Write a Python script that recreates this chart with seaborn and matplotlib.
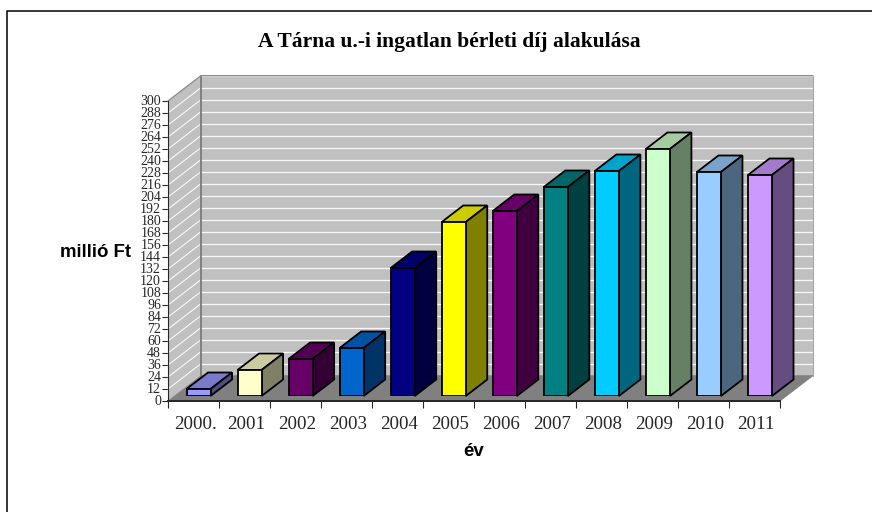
import numpy as np
import pandas as pd
import seaborn as sns
import matplotlib.pyplot as plt
from matplotlib.colors import to_rgb
from matplotlib.lines import Line2D
from matplotlib.patches import Polygon
from matplotlib.transforms import ScaledTranslation

W, H = 872, 512

YEARS = ["2000.", "2001", "2002", "2003", "2004", "2005", "2006", "2007", "2008", "2009", "2010", "2011"]
RENT = [7, 26, 37, 48, 128, 174, 185, 209, 225, 247, 224, 221]
COLORS = ["#9999FF", "#FFFFCC", "#660066", "#0066CC", "#000080", "#FFFF00",
          "#800080", "#008080", "#00CCFF", "#CCFFCC", "#99CCFF", "#CC99FF"]
Y_TICKS = list(range(0, 301, 12))


def shade(color, k):
    return tuple(c * k for c in to_rgb(color))


def add_axes_px(fig, left, bottom_y, right, top_y):
    return fig.add_axes([left / W, 1 - bottom_y / H, (right - left) / W, (bottom_y - top_y) / H])


def draw_frame(ax):
    # the box is drawn in the axes own units, 12 categories wide and 300 high
    dx, dy = 33 / 51, 25.3
    ax.set_xlim(0, 12)
    ax.set_ylim(0, 300)
    ax.patch.set_visible(False)
    ax.add_patch(Polygon([(dx, dy), (12 + dx, dy), (12 + dx, 300 + dy), (dx, 300 + dy)], fc="#C0C0C0",
                         ec="none", clip_on=False, zorder=1))
    ax.add_patch(Polygon([(0, 0), (dx, dy), (dx, 300 + dy), (0, 300)], fc="#C0C0C0",
                         ec="none", clip_on=False, zorder=1))
    for v in Y_TICKS[1:]:
        ax.plot([dx, 12 + dx], [v + dy, v + dy], color="white", lw=0.9, alpha=0.9, clip_on=False, zorder=2)
        ax.plot([0, dx], [v, v + dy], color="white", lw=0.8, alpha=0.9, clip_on=False, zorder=2)
    ax.add_patch(Polygon([(0, 0), (12, 0), (12 + dx, dy), (dx, dy)], fc="#808080", ec="#808080",
                         lw=0.5, clip_on=False, zorder=3))
    # wall edges on top of the gridlines
    ax.plot([dx, dx], [dy, 300 + dy], color="#808080", lw=1.4, clip_on=False, zorder=3)
    ax.plot([0, dx, 12 + dx], [300, 300 + dy, 300 + dy], color="#8C8C8C", lw=1.0, clip_on=False, zorder=3)
    ax.plot([12 + dx, 12 + dx], [dy, 300 + dy], color="#A6A6A6", lw=0.8, clip_on=False, zorder=3)

    for side in ["top", "right"]:
        ax.spines[side].set_visible(False)
    ax.spines["left"].set_linewidth(0.8)
    ax.spines["bottom"].set_linewidth(1.4)
    ax.spines["left"].set_zorder(4)
    ax.spines["bottom"].set_zorder(4)

    ax.set_yticks(Y_TICKS)
    ax.set_yticklabels(Y_TICKS, fontsize=10, family=SERIF)
    ax.tick_params(axis="y", length=4, width=0.8, pad=1, left=True)
    # labels sit a pixel above their ticks in the reference
    nudge = ScaledTranslation(0, 1 / 100, ax.figure.dpi_scale_trans)
    for label in ax.get_yticklabels():
        label.set_transform(label.get_transform() + nudge)
    ax.set_xticks(np.arange(13))
    ax.set_xticklabels([])
    ax.tick_params(axis="x", which="major", length=5, width=0.8, bottom=True)
    ax.set_xticks(np.arange(12) + 0.53, minor=True)
    ax.set_xticklabels(YEARS, minor=True, fontsize=13.6, family=SERIF)
    ax.tick_params(axis="x", which="minor", length=0, pad=10.5)


def draw_bars(ax):
    dx, dy = 21.5 / 51, 16.5
    df = pd.DataFrame({"year": YEARS, "rent": RENT})
    sns.barplot(data=df, x="year", y="rent", hue="year", palette=COLORS, dodge=False, legend=False,
                width=24 / 51, saturation=1, edgecolor="black", linewidth=1.3, ax=ax, zorder=6)
    ax.set_xlim(-0.5, 11.5)
    ax.set_ylim(0, 300)
    ax.axis("off")

    for bar, color in zip(ax.patches, COLORS):
        x0, y1 = bar.get_x(), bar.get_height()
        x1 = x0 + bar.get_width()
        ax.add_patch(Polygon([(x0, y1), (x1, y1), (x1 + dx, y1 + dy), (x0 + dx, y1 + dy)],
                             fc=shade(color, 0.8), ec="black", lw=1.3, zorder=5, clip_on=False))
        ax.add_patch(Polygon([(x1, 0), (x1 + dx, dy), (x1 + dx, y1 + dy), (x1, y1)],
                             fc=shade(color, 0.5), ec="black", lw=1.3, zorder=5, clip_on=False))


SERIF = "Liberation Serif"
SANS = "Liberation Sans"

sns.set_theme(style="white")
plt.rcParams["font.family"] = [SERIF, "DejaVu Sans"]

fig = plt.figure(figsize=(W / 100, H / 100), dpi=100, facecolor="white")

# only the top and left of the outer border are in the picture
fig.add_artist(Line2D([6.5 / W, 6.5 / W, 1], [0, 1 - 10.5 / H, 1 - 10.5 / H], transform=fig.transFigure,
                      color="black", lw=1.1))

frame_ax = add_axes_px(fig, 168, 401, 780, 101)
draw_frame(frame_ax)

bar_ax = add_axes_px(fig, 173, 396, 785.5, 96)
bar_ax.patch.set_visible(False)
draw_bars(bar_ax)

fig.text(449.5 / W, 1 - 42 / H, "A Tárna u.-i ingatlan bérleti díj alakulása", ha="center", va="center",
         fontsize=15.5, fontweight="bold", family=SERIF, color="black")
fig.text(96 / W, 1 - 252.5 / H, "millió Ft", ha="center", va="center", fontsize=13.4,
         fontweight="bold", family=SANS, color="black")
fig.text(474 / W, 1 - 451 / H, "év", ha="center", va="center", fontsize=13.4,
         fontweight="bold", family=SANS, color="black")

fig.savefig("out.png", dpi=100)
plt.close(fig)
